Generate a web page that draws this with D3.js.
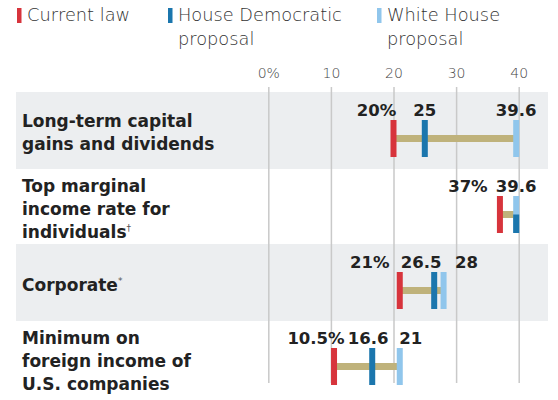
<!DOCTYPE html>
<html>
<head>
<meta charset="utf-8">
<script src="https://cdn.jsdelivr.net/npm/d3@7"></script>
<style>
  body { margin: 0; background: #fff; }
  text { font-family: "DejaVu Sans", "Open Sans", sans-serif; }
</style>
</head>
<body>
<div id="chart"></div>
<script>
// rows of the chart, label broken into lines, footnote mark kept apart
const categories = ["capital", "individual", "corporate", "foreign"]
const categoryLines = [
  ["Long-term capital", "gains and dividends"],
  ["Top marginal", "income rate for", "individuals"],
  ["Corporate"],
  ["Minimum on", "foreign income of", "U.S. companies"]
]
const footnotes = ["", "†", "*", ""]

// rates, percent
const currentLaw = [20, 37, 21, 10.5]
const houseDem = [25, 39.6, 26.5, 16.6]
const whiteHouse = [39.6, 39.6, 28, 21]

const ticks = [0, 10, 20, 30, 40]
const seriesNames = [["Current law"], ["House Democratic", "proposal"], ["White House", "proposal"]]

const cfg = {
  w: 558,
  h: 400,
  red: "#d7343c",
  blue: "#1b76ad",
  light: "#90c6ec",
  range: "#bfb27b",
  band: "#eceef0",
  grid: "#c9c9c9",
  ink: "#222"
}
const colors = [cfg.red, cfg.blue, cfg.light]

// hand placed label nudges (px from marker), like the original annotation
const labelDx = [
  [-17, 0, 0],
  [-32, null, 0],
  [-30, -13, 23],
  [-18, -4, 11]
]

const svg = d3.select("#chart")
  .append("svg")
    .attr("width", cfg.w)
    .attr("height", cfg.h)

const x = d3.scaleLinear().domain([0, 40]).range([268.3, 518.7])
const y = d3.scaleBand().domain(categories).range([92, 396])

// legend
const legend = svg.append("g")
const legendX = [17, 168, 377]
seriesNames.forEach(function(lines, i) {
  const g = legend.append("g").attr("transform", "translate(" + legendX[i] + ",0)")
  g.append("rect").attr("x", 0).attr("y", 8).attr("width", 4.5).attr("height", 15).attr("fill", colors[i])
  lines.forEach(function(l, j) {
    g.append("text").attr("x", 10).attr("y", 21 + j * 24)
      .attr("font-size", 17.8).attr("font-weight", 300).attr("fill", "#333").text(l)
  })
})

// shaded rows
svg.selectAll("rect.band")
  .data(categories.filter(function(d, i) { return i % 2 === 0 }))
  .enter().append("rect")
    .attr("class", "band")
    .attr("x", 16)
    .attr("y", function(d) { return y(d) })
    .attr("width", 548 - 16)
    .attr("height", y.bandwidth() + 1)
    .attr("fill", cfg.band)

// gridlines + tick labels
svg.append("g")
  .attr("transform", "translate(0,87)")
  .call(d3.axisTop(x).tickValues(ticks).tickSize(-296)
    .tickFormat(function(d) { return d === 0 ? "0%" : d }))
  .call(function(g) {
    g.select(".domain").remove()
    g.selectAll(".tick line").attr("stroke", cfg.grid).attr("stroke-width", 1.5)
    g.selectAll(".tick text").attr("y", -9).attr("font-size", 14).attr("font-weight", 300)
      .attr("fill", "#444").attr("font-family", "'DejaVu Sans', sans-serif")
  })

// row labels
const labels = svg.append("g")
categories.forEach(function(c, i) {
  const lines = categoryLines[i]
  const mid = y(c) + 46.5
  const t = labels.append("text")
    .attr("font-size", 17).attr("font-weight", 700).attr("fill", cfg.ink)
  lines.forEach(function(l, j) {
    t.append("tspan").attr("x", 22).attr("y", mid + (j - (lines.length - 1) / 2) * 23).text(l)
  })
  if (footnotes[i]) {
    t.append("tspan").attr("font-size", 9).attr("font-weight", 400).attr("fill", "#555")
      .attr("dy", -7).text(footnotes[i])
  }
})

// marks
const mh = 37
const rows = svg.append("g")
categories.forEach(function(c, i) {
  const vals = [currentLaw[i], houseDem[i], whiteHouse[i]]
  const cy = y(c) + 46.5
  const g = rows.append("g")

  g.append("rect")
    .attr("x", x(d3.min(vals)))
    .attr("y", cy - 3.5)
    .attr("width", x(d3.max(vals)) - x(d3.min(vals)))
    .attr("height", 7)
    .attr("fill", cfg.range)

  // current law, white house, then house dem (house dem shares the lower half when equal)
  const same = houseDem[i] === whiteHouse[i]
  ;[0, 2, 1].forEach(function(k) {
    const half = same && k === 1
    g.append("rect")
      .attr("x", x(vals[k]) - 3)
      .attr("y", half ? cy : cy - mh / 2)
      .attr("width", 6)
      .attr("height", half ? mh / 2 : mh)
      .attr("fill", colors[k])
  })

  vals.forEach(function(v, k) {
    if (labelDx[i][k] === null) return
    g.append("text")
      .attr("x", x(v) + labelDx[i][k])
      .attr("y", cy - mh / 2 - 4)
      .attr("text-anchor", "middle")
      .attr("font-size", 16.5).attr("font-weight", 700).attr("fill", cfg.ink)
      .text(k === 0 ? v + "%" : v)
  })
})
</script>
</body>
</html>
